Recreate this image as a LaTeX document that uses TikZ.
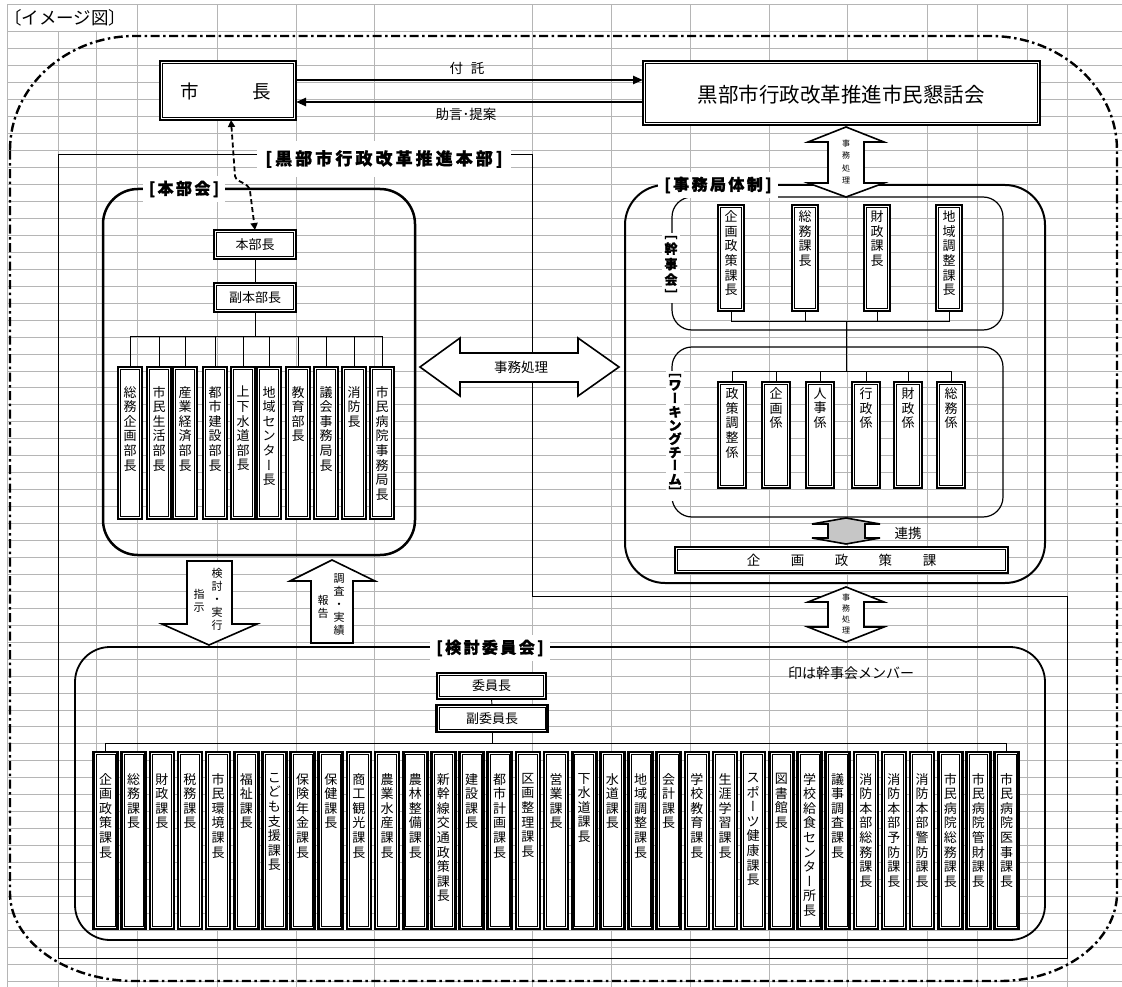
\documentclass[tikz,border=0pt]{standalone}
\usepackage{fontspec}
\usepackage{graphicx}
\setmainfont{Noto Sans CJK JP}
\newfontfamily\vertfont{Noto Sans CJK JP}[RawFeature=+vert]
\usetikzlibrary{arrows.meta}
\newcommand\fs[1]{\fontsize{#1}{#1}\selectfont}
\makeatletter
\def\vt@end{\vt@end@x}
\newcommand\vt[2][14.6pt]{\vbox{\baselineskip=#1\relax\lineskiplimit=-30pt\relax\lineskip=0pt\relax\vt@a#2\vt@end}}
\def\vt@a#1{\ifx#1\vt@end\else\hbox to 1.2em{\hss#1\hss}\expandafter\vt@a\fi}
\makeatother
\newcommand\lv{{\vertfont ー}}
\newcommand\lbk{{\vertfont ［}}
\newcommand\rbk{{\vertfont ］}}
\tikzset{
  gridl/.style={draw=gray!58, line width=1pt},
  obox/.style={draw=black, fill=white, line width=2.6pt, inner sep=0pt, outer sep=0pt},
  ibox/.style={draw=black, line width=0.8pt},
  txt/.style={inner sep=0pt, font=\fs{13}},
  frameline/.style={draw=black, line width=1pt},
  conn/.style={draw=black, line width=0.9pt},
  bigarr/.style={draw=black, line width=2.4pt, arrows={-Triangle[length=10pt,width=8pt]}},
  dasharr/.style={draw=black, line width=1.8pt, dash pattern=on 5pt off 3pt, arrows={Triangle[length=7pt,width=7pt]-Triangle[length=7pt,width=7pt]}},
  barrow/.style={draw=black, fill=white, line width=1.6pt, line join=miter},
  lbl/.style={fill=white, inner xsep=6pt, inner ysep=5pt, font=\fs{16}\bfseries\addfontfeature{LetterSpace=15,FakeBold=1.2}},
  vlbl/.style={fill=white, inner xsep=1pt, inner ysep=3pt, font=\fs{13}\bfseries\addfontfeature{FakeBold=1.2}},
  dashdot/.style={draw=black, line width=2.4pt, dash pattern=on 9pt off 3.5pt on 2.5pt off 3.5pt},
}
\newcommand\dbox[5]{%
  \node[obox, minimum width=#4pt, minimum height=#5pt, anchor=north] (#1) at (#2,#3) {};
  \draw[ibox] ([shift={(2.6pt,2.6pt)}]#1.south west) rectangle ([shift={(-2.6pt,-2.6pt)}]#1.north east);}
\newcommand\vbx[7]{%
  \dbox{#1}{#2}{#3}{#4}{#5}
  \node[txt, anchor=north] (#1t) at ([yshift=-#6pt]#1.north) {\expandafter\vt\expandafter{#7}};}
\begin{document}
\begin{tikzpicture}[x=1pt,y=-1pt]
\useasboundingbox (0,0) rectangle (1122,987);
\fill[white] (0,0) rectangle (1122,987);
% spreadsheet grid
\foreach \x in {7,137,217,296,374,532,611,690,769,847,927,977,1027,1067} \draw[gridl] (\x,5) -- (\x,987);
\foreach \x in {58,96} \draw[gridl] (\x,32) -- (\x,987);
\draw[gridl] (7,5) -- (1122,5);
\foreach \k in {0,...,56} \draw[gridl] (7,{32+16.95*\k}) -- (1122,{32+16.95*\k});
\node[txt, font=\fs{17.5}, anchor=west] (title) at (4,18) {〔イメージ図〕};
% outer dash-dot boundary
\draw[dashdot] (10,150) .. controls (10,87) and (66,36) .. (135,36) -- (990,36) .. controls (1060,36) and (1117,87) .. (1117,150) -- (1117,893) .. controls (1117,941) and (1064,981) .. (1000,981) -- (135,981) .. controls (66,981) and (10,941) .. (10,893) -- cycle;
% headquarters frame
\draw[frameline] (532,596) -- (532,155) -- (58,155) -- (58,958) -- (1067,958) -- (1067,596) -- cycle;
% rounded groups
\draw[line width=2.5pt, rounded corners=35pt] (103,189) rectangle (415,555);
\draw[line width=2pt, rounded corners=40pt] (625,185) rectangle (1045,583);
\draw[line width=1.2pt, rounded corners=20pt] (672,197) rectangle (1003,330);
\draw[line width=1.2pt, rounded corners=20pt] (672,347) rectangle (1003,517);
\draw[line width=1.8pt, rounded corners=35pt] (75,647) rectangle (1045,940);
% labels
\node[lbl, font=\fs{17}\bfseries\addfontfeature{LetterSpace=18,FakeBold=1.2}, inner xsep=8pt, inner ysep=9pt] (hqlbl) at (384,159) {[黒部市行政改革推進本部]};
\node[lbl] (hbklbl) at (184,189) {[本部会]};
\node[lbl] (jmklbl) at (718,185) {[事務局体制]};
\node[lbl] (kntlbl) at (490,648) {[検討委員会]};
\node[vlbl] (kjlbl) at (671,268) {\vt[15.5pt]{\lbk 幹事会\rbk}};
\node[vlbl] (wtlbl) at (675,436) {\vt[13.5pt]{\lbk ワ\lv キングチ\lv ム\rbk}};
% top
\dbox{mayor}{228}{61}{136}{59}
\node[txt, font=\fs{18.5}] (mayort) at (226,91) {市\hspace{54pt}長};
\dbox{kondan}{841.5}{61}{397}{64}
\node[txt, font=\fs{20.5}] (kondant) at (841,95) {黒部市行政改革推進市民懇話会};
\coordinate (ya) at (0,80);
\coordinate (yb) at (0,102);
\draw[bigarr] (mayor.east |- ya) -- (kondan.west |- ya);
\draw[bigarr] (kondan.west |- yb) -- (mayor.east |- yb);
\node[txt, font=\fs{13.5}] (futaku) at (467,68) {付\hspace{8pt}託};
\node[txt, font=\fs{13.5}] (jogen) at (466,114) {助言･提案};
% honbukai
\dbox{hbc}{255}{230}{82}{29}
\node[txt] (hbct) at (hbc) {本部長};
\dbox{hfu}{255}{283}{82}{29}
\node[txt] (hfut) at (hfu) {副本部長};
\draw[dasharr] ([xshift=3pt]mayor.south) -- (235,176) .. controls (237,184) and (248,181) .. (250,191) -- (hbc.north);
\foreach \x/\tx [count=\i] in {130/総務企画部長,159/市民生活部長,185/産業経済部長,215/都市建設部長,243/上下水道部長,269/地域センタ\lv 長,298/教育部長,326/議会事務局長,354/消防長,382/市民病院事務局長}
  {\vbx{h\i}{\x}{367}{24}{152}{19}{\tx}}
\draw[conn] (hbc.south) -- (hfu.north);
\coordinate (hb) at (0,336);
\draw[conn] (hfu.south) -- (hfu.south |- hb);
\draw[conn] (h1.north) -- (h1.north |- hb) -- (h10.north |- hb) -- (h10.north);
\foreach \i in {2,...,9} \draw[conn] (h\i.north) -- (h\i.north |- hb);
% kanjikai
\foreach \x/\tx [count=\i] in {731/企画政策課長,805/総務課長,877/財政課長,949/地域調整課長}
  {\vbx{k\i}{\x}{205}{26}{106}{5.5}{\tx}}
\coordinate (kb) at (0,321);
\draw[conn] (k1.south) -- (k1.south |- kb) -- (k4.south |- kb) -- (k4.south);
\foreach \i in {2,3} \draw[conn] (k\i.south) -- (k\i.south |- kb);
\coordinate (kc) at (846,321);
\coordinate (wc) at (846,371);
\draw[conn] (kc) -- (wc);
% working team
\foreach \x/\tx [count=\i] in {732/政策調整係,776/企画係,820/人事係,866/行政係,908/財政係,951/総務係}
  {\vbx{w\i}{\x}{382}{28}{106}{5.5}{\tx}}
\coordinate (wb) at (0,371);
\draw[conn] (w1.north) -- (w1.north |- wb) -- (w6.north |- wb) -- (w6.north);
\foreach \i in {2,...,5} \draw[conn] (w\i.north) -- (w\i.north |- wb);
% kikaku seisaku ka
\dbox{kks}{841.5}{547}{333}{26}
\node[txt, font=\fs{13.5}] (kkst) at (kks) {企\hspace{30.5pt}画\hspace{30.5pt}政\hspace{30.5pt}策\hspace{30.5pt}課};
\draw[barrow, fill=gray!45] (846,518) -- (880,524) -- (865,524) -- (865,538) -- (880,538) -- (846,544) -- (812,538) -- (828,538) -- (828,524) -- (812,524) -- cycle;
\node[txt, font=\fs{13.5}] (renkei) at (908,533) {連携};
% block arrows
\draw[barrow] (846,127) -- (884,142) -- (864,142) -- (864,183) -- (884,183) -- (846,197) -- (808,183) -- (828,183) -- (828,142) -- (808,142) -- cycle;
\node[txt, font=\fs{8}] (jm1) at (846,162) {\vt[12.5pt]{事務処理}};
\draw[barrow] (846,587) -- (884,602) -- (864,602) -- (864,627) -- (884,627) -- (846,642) -- (808,627) -- (828,627) -- (828,602) -- (808,602) -- cycle;
\node[txt, font=\fs{8}] (jm2) at (846,614) {\vt[11pt]{事務処理}};
\draw[barrow] (420,367) -- (460,338) -- (460,353) -- (578,353) -- (578,338) -- (619,367) -- (578,396) -- (578,382) -- (460,382) -- (460,396) -- cycle;
\node[txt, font=\fs{13.5}] (jm3) at (521,367) {事務処理};
\draw[barrow] (187,561) -- (232,561) -- (232,624) -- (257,624) -- (209,645) -- (162,624) -- (187,624) -- cycle;
\node[txt, font=\fs{11}] (shiji) at (199,601) {\vt[13.5pt]{指示}};
\node[txt, font=\fs{11}] (kento) at (217,599) {\vt[13pt]{検討・実行}};
\draw[barrow] (332,560) -- (375,581) -- (353,581) -- (353,643) -- (311,643) -- (311,581) -- (290,581) -- cycle;
\node[txt, font=\fs{11}] (hokoku) at (323,607) {\vt[13.5pt]{報告}};
\node[txt, font=\fs{11}] (chosa) at (339,605) {\vt[13pt]{調査・実績}};
% committee
\dbox{iin}{491.5}{673}{109}{26}
\node[txt] (iint) at (iin) {委員長};
\dbox{fuku}{492}{705}{111}{27}
\node[txt] (fukut) at (fuku) {副委員長};
\node[txt, font=\fs{14}, anchor=west] (note) at (788,673) {印は幹事会メンバー};
\foreach \tx [count=\i] in {企画政策課長,総務課長,財政課長,税務課長,市民環境課長,福祉課長,こども支援課長,保険年金課長,保健課長,商工観光課長,農業水産課長,農林整備課長,新幹線交通政策課長,建設課長,都市計画課長,区画整理課長,営業課長,下水道課長,水道課長,地域調整課長,会計課長,学校教育課長,生涯学習課長,スポ\lv ツ健康課長,図書館長,学校給食センタ\lv 所長,議事調査課長,消防本部総務課長,消防本部予防課長,消防本部警防課長,市民病院総務課長,市民病院管財課長,市民病院医事課長}
  {\pgfmathsetmacro\cx{105.5+28.16*(\i-1)}\vbx{b\i}{\cx}{752}{24}{177}{21}{\tx}}
\draw[conn] (iin.south) -- (fuku.north);
\coordinate (bb) at (0,743);
\draw[conn] (fuku.south) -- (fuku.south |- bb);
\draw[conn] (b1.north) -- (b1.north |- bb) -- (b33.north |- bb) -- (b33.north);
\end{tikzpicture}
\end{document}
